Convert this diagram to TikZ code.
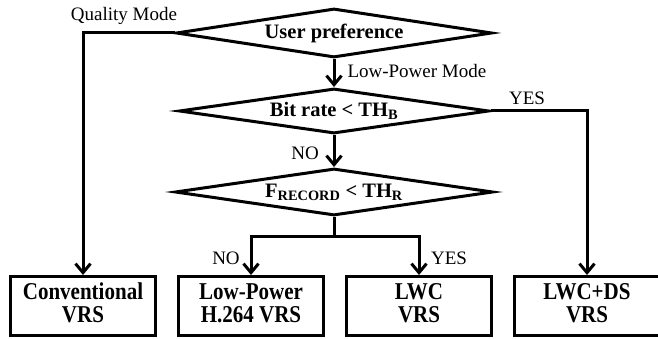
\documentclass[tikz,border=0pt]{standalone}
\usepackage{fontspec}
\setmainfont{Liberation Serif}
\usetikzlibrary{shapes.geometric,arrows.meta}
\newcommand{\bxtxt}[2]{\scalebox{1}[1.15]{\begin{tabular}{@{}c@{}}#1\\#2\end{tabular}}}
\begin{document}
\begin{tikzpicture}[x=1pt,y=-1pt,
  every path/.style={line width=3pt},
  decision/.style={diamond,draw,line width=3pt,inner sep=0pt,font=\fontsize{20.5}{24}\selectfont\bfseries},
  outbox/.style={rectangle,draw,line width=3pt,minimum width=145pt,minimum height=59pt,inner sep=0pt,align=center,font=\fontsize{21}{20}\selectfont\bfseries},
  lbl/.style={inner sep=0pt,font=\fontsize{19}{22}\selectfont},
  arr/.style={-{Straight Barb[length=9pt,width=15pt,line width=3pt]},line width=3pt}]
\useasboundingbox (0,0) rectangle (658,339);
\node[decision,aspect=6.45,minimum width=316pt,minimum height=49pt] (d1) at (334,33) {User preference};
\node[decision,aspect=6.9,minimum width=310pt,minimum height=45pt] (d2) at (334,111) {Bit rate < TH\textsubscript{B}};
\node[decision,aspect=6.77,minimum width=318pt,minimum height=47pt] (d3) at (334,192) {F\textsubscript{RECORD} < TH\textsubscript{R}};
\node[outbox] (b1) at (83,306) {\bxtxt{Conventional}{VRS}};
\node[outbox] (b2) at (251,306) {\bxtxt{Low-Power}{H.264 VRS}};
\node[outbox] (b3) at (419,306) {\bxtxt{LWC}{VRS}};
\node[outbox] (b4) at (587,306) {\bxtxt{LWC+DS}{VRS}};
\coordinate (split) at (334,236);
\draw[arr] (d1.west) -| (b1.north);
\draw[arr] (d1.south) -- (d2.north);
\draw[arr] (d2.south) -- (d3.north);
\draw[arr] (d2.east) -| (b4.north);
\draw (d3.south) -- (split);
\draw[arr] (split) -| (b2.north);
\draw[arr] (split) -| (b3.north);
\node[lbl] (lq) at (124,16) {Quality Mode};
\node[lbl,anchor=west] (llp) at (346,71) {Low-Power Mode};
\node[lbl] (ly1) at (527,98) {YES};
\node[lbl] (ln1) at (305,153) {NO};
\node[lbl] (ln2) at (226,258) {NO};
\node[lbl] (ly2) at (449,258) {YES};
\end{tikzpicture}
\end{document}
